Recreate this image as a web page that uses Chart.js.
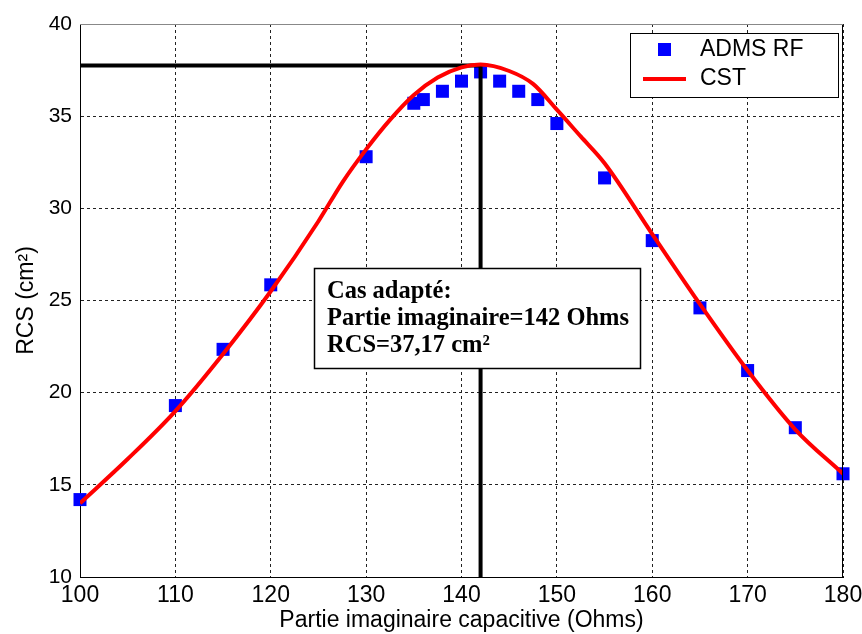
<!DOCTYPE html>
<html>
<head>
<meta charset="utf-8">
<script src="https://cdn.jsdelivr.net/npm/chart.js@4.4.0/dist/chart.umd.min.js"></script>
<style>
  html, body { margin: 0; padding: 0; background: #fff; }
  canvas { display: block; }
</style>
</head>
<body>
<canvas id="graficoRCS" width="862" height="634"></canvas>
<script>
// mesures ADMS RF
const admsX = [100, 110, 115, 120, 130, 135, 136, 138, 140, 142, 144, 146, 148, 150, 155, 160, 165, 170, 175, 180];
const admsY = [14.2, 19.3, 22.35, 25.85, 32.8, 35.7, 35.9, 36.35, 36.9, 37.4, 36.9, 36.35, 35.9, 34.6, 31.65, 28.25, 24.6, 21.2, 18.1, 15.6];

// simulation CST
const cstX = [100, 105, 110, 115, 120, 125, 127.5, 130, 132.5, 135, 137.5, 140, 142, 145, 147.5, 150, 152.5, 155, 160, 165, 170, 175, 180];
const cstY = [14.0, 16.4, 19.0, 22.1, 25.5, 29.3, 31.4, 33.2, 34.8, 36.15, 37.1, 37.65, 37.8, 37.45, 36.75, 35.35, 33.9, 32.45, 28.6, 24.8, 21.2, 18.0, 15.6];

// point adapte (lignes noires)
const adapteX = 142;
const adapteY = 37.75;

const xTicks = [100, 110, 120, 130, 140, 150, 160, 170, 180];
const yTicks = [10, 15, 20, 25, 30, 35, 40];

const legendeNoms = ['ADMS RF', 'CST'];
const noteLignes = ['Cas adapté:', 'Partie imaginaire=142 Ohms', 'RCS=37,17 cm²'];

const ptsAdms = admsX.map((x, i) => ({x: x, y: admsY[i]}));
const ptsCst = cstX.map((x, i) => ({x: x, y: cstY[i]}));
const ptsAdapte = [
    {x: xTicks[0], y: adapteY},
    {x: adapteX, y: adapteY},
    {x: adapteX, y: yTicks[0]}
];

const SANS = '"Liberation Sans", Arial, sans-serif';
const SERIF = '"Liberation Serif", "Times New Roman", serif';

const cadrePlugin = {
    id: 'cadre',
    afterDraw(chart) {
        const ctx = chart.ctx;
        const a = chart.chartArea;
        ctx.save();
        // bord droit et haut
        ctx.strokeStyle = '#000';
        ctx.lineWidth = 1;
        ctx.beginPath();
        ctx.moveTo(a.right - 0.5, a.bottom);
        ctx.lineTo(a.right - 0.5, a.top);
        ctx.stroke();
        ctx.strokeStyle = '#888';
        ctx.beginPath();
        ctx.moveTo(a.left, a.top + 0.5);
        ctx.lineTo(a.right, a.top + 0.5);
        ctx.stroke();

        // legende
        ctx.fillStyle = '#fff';
        ctx.fillRect(630, 33, 208, 64);
        ctx.strokeStyle = '#000';
        ctx.lineWidth = 1;
        ctx.strokeRect(630.5, 33.5, 208, 64);
        ctx.fillStyle = '#0000ff';
        ctx.fillRect(658, 43, 13, 13);
        ctx.strokeStyle = '#ff0000';
        ctx.lineWidth = 4;
        ctx.beginPath();
        ctx.moveTo(643, 79);
        ctx.lineTo(686, 79);
        ctx.stroke();
        ctx.fillStyle = '#000';
        ctx.font = '23px ' + SANS;
        ctx.textBaseline = 'middle';
        ctx.textAlign = 'left';
        ctx.fillText(legendeNoms[0], 700, 50);
        ctx.fillText(legendeNoms[1], 700, 79);

        // encadre du cas adapte
        ctx.fillStyle = '#fff';
        ctx.fillRect(314, 268, 326, 100);
        ctx.strokeStyle = '#000';
        ctx.lineWidth = 1.5;
        ctx.strokeRect(314.5, 268.5, 326, 100);
        ctx.fillStyle = '#000';
        ctx.font = 'bold 24.5px ' + SERIF;
        ctx.textBaseline = 'alphabetic';
        ctx.fillText(noteLignes[0], 327, 298);
        ctx.fillText(noteLignes[1], 327, 325);
        ctx.fillText(noteLignes[2], 327, 352);
        ctx.restore();
    }
};

const config = {
    type: 'scatter',
    data: {
        datasets: [
            {
                type: 'line',
                label: legendeNoms[1],
                data: ptsCst,
                borderColor: '#ff0000',
                borderWidth: 4,
                pointRadius: 0,
                cubicInterpolationMode: 'monotone',
                fill: false
            },
            {
                type: 'line',
                label: 'adapte',
                data: ptsAdapte,
                borderColor: '#000',
                borderWidth: 4,
                pointRadius: 0,
                tension: 0,
                fill: false
            },
            {
                label: legendeNoms[0],
                data: ptsAdms,
                pointStyle: 'rect',
                pointRadius: 9.2,
                backgroundColor: '#0000ff',
                borderWidth: 0,
                clip: false
            }
        ]
    },
    options: {
        responsive: false,
        animation: false,
        layout: { padding: { top: 24, right: 19, left: 0, bottom: 0 } },
        plugins: {
            legend: { display: false },
            tooltip: { enabled: false }
        },
        scales: {
            x: {
                type: 'linear',
                min: 100,
                max: 180,
                afterBuildTicks(axis) { axis.ticks = xTicks.map(v => ({value: v})); },
                afterFit(axis) {
                    axis.height = 57;
                    axis.paddingLeft = 0;
                    axis.paddingRight = 0;
                },
                ticks: {
                    color: '#000',
                    padding: 5,
                    maxRotation: 0,
                    font: { family: SANS, size: 23 }
                },
                grid: { color: '#222', lineWidth: 1, drawTicks: false },
                border: { display: true, color: '#000', width: 1, dash: [3, 3] },
                title: {
                    display: true,
                    text: 'Partie imaginaire capacitive (Ohms)',
                    color: '#000',
                    padding: 0,
                    font: { family: SANS, size: 23 }
                }
            },
            y: {
                min: 10,
                max: 40,
                afterBuildTicks(axis) { axis.ticks = yTicks.map(v => ({value: v})); },
                afterFit(axis) {
                    axis.width = 80;
                    axis.paddingTop = 0;
                    axis.paddingBottom = 0;
                },
                ticks: {
                    color: '#000',
                    padding: 8,
                    font: { family: SANS, size: 21 }
                },
                grid: { color: '#222', lineWidth: 1, drawTicks: false },
                border: { display: true, color: '#000', width: 1, dash: [3, 3] },
                title: {
                    display: true,
                    text: 'RCS (cm²)',
                    color: '#000',
                    padding: { top: 13, bottom: 0 },
                    font: { family: SANS, size: 23 }
                }
            }
        }
    },
    plugins: [cadrePlugin]
};

const graficoRCS = new Chart(document.getElementById('graficoRCS'), config);
</script>
</body>
</html>
